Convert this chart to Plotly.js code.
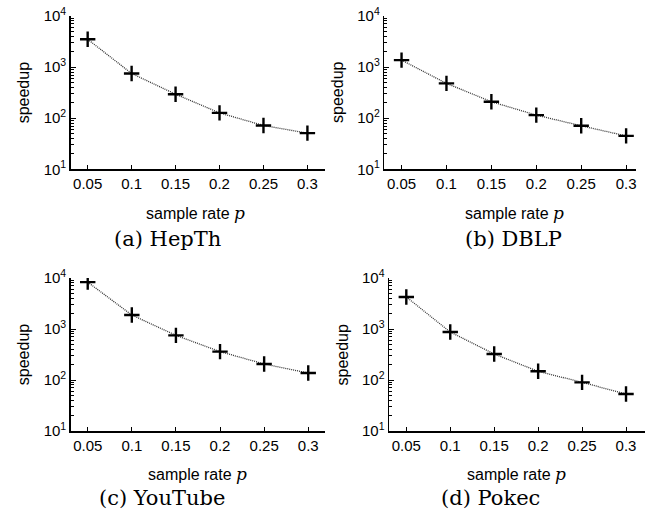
<!DOCTYPE html>
<html><head><meta charset="utf-8">
<script src="https://cdn.plot.ly/plotly-3.0.1.min.js"></script>
<style>html,body{margin:0;padding:0;background:#fff}</style>
</head><body><div id="chart" style="width:661px;height:516px"></div>
<script>
// ---- data ----
const sampleRates = [0.05, 0.1, 0.15, 0.2, 0.25, 0.3];
const xTickLabels = ['0.05', '0.1', '0.15', '0.2', '0.25', '0.3'];
const hepth   = [3500, 750, 295, 127, 72, 51];
const dblp    = [1370, 480, 210, 115, 71, 45];
const youtube = [8300, 1880, 750, 360, 206, 137];
const pokec   = [4240, 873, 323, 148, 90, 53];
const yTickVals = [10, 100, 1000, 10000];
const yTickLabels = ['10<sup>1</sup>', '10<sup>2</sup>', '10<sup>3</sup>', '10<sup>4</sup>'];
const yMinorVals = [20,30,40,50,60,70,80,90,200,300,400,500,600,700,800,900,2000,3000,4000,5000,6000,7000,8000,9000];
const captions = ['(a) HepTh', '(b) DBLP', '(c) YouTube', '(d) Pokec'];
const yTitle = 'speedup';
const xTitle = "sample rate <span style=\"font-family:'DejaVu Serif',serif;font-style:italic;font-size:17px\">p</span>";

// ---- layout (pixel geometry) ----
const W = 661, H = 516;
const panels = [
  {series: hepth,   l: 70.7,  r: 325, t: 16,  b: 169.3, xr: [0.0307, 0.32],  cap: [167, 239], xt: [195, 213]},
  {series: dblp,    l: 384.3, r: 636, t: 16,  b: 169.3, xr: [0.0308, 0.311], cap: [513, 239], xt: [514, 213]},
  {series: youtube, l: 70.7,  r: 325, t: 278, b: 431,   xr: [0.0307, 0.319], cap: [162, 498], xt: [197, 474]},
  {series: pokec,   l: 389,   r: 645, t: 278, b: 431,   xr: [0.0303, 0.3216], cap: [490, 498], xt: [516, 474]}
];
const sans = 'Liberation Sans, Arial, sans-serif';
const data = [];
const layout = {
  width: W, height: H, margin: {l: 0, r: 0, t: 0, b: 0},
  paper_bgcolor: '#fff', plot_bgcolor: '#fff', showlegend: false,
  font: {family: sans, size: 15, color: '#000'},
  annotations: []
};
panels.forEach((p, i) => {
  const n = i === 0 ? '' : String(i + 1);
  data.push({
    x: sampleRates, y: p.series, xaxis: 'x' + n, yaxis: 'y' + n,
    type: 'scatter', mode: 'lines+markers',
    line: {color: '#333', width: 1.3, dash: '1px,1px'},
    marker: {symbol: 'cross-thin', size: 11, color: '#000', line: {color: '#000', width: 2.4}}
  });
  layout['xaxis' + n] = {
    domain: [p.l / W, p.r / W], range: p.xr, anchor: 'y' + n,
    tickmode: 'array', tickvals: sampleRates, ticktext: xTickLabels,
    ticks: 'inside', ticklen: 4, tickwidth: 1, tickcolor: '#000',
    showline: true, linecolor: '#000', linewidth: 1.5, mirror: false,
    showgrid: false, zeroline: false, tickfont: {family: sans, size: 15},
    fixedrange: true
  };
  layout['yaxis' + n] = {
    domain: [1 - p.b / H, 1 - p.t / H], type: 'log', range: [1, 4], anchor: 'x' + n,
    tickmode: 'array', tickvals: yTickVals, ticktext: yTickLabels,
    ticks: 'inside', ticklen: 5, tickwidth: 1, tickcolor: '#000',
    minor: {tickmode: 'array', tickvals: yMinorVals, ticks: 'inside', ticklen: 3, tickwidth: 1, tickcolor: '#000', showgrid: false},
    showline: true, linecolor: '#000', linewidth: 1.5, mirror: false,
    showgrid: false, zeroline: false, tickfont: {family: sans, size: 15},
    fixedrange: true
  };
  layout.annotations.push({
    xref: 'paper', yref: 'paper', x: (p.l - 47) / W, y: 1 - ((p.t + p.b) / 2) / H,
    text: yTitle, textangle: -90, showarrow: false, xanchor: 'center', yanchor: 'middle',
    font: {family: sans, size: 16, color: '#000'}
  });
  layout.annotations.push({
    xref: 'paper', yref: 'paper', x: p.xt[0] / W, y: 1 - p.xt[1] / H,
    text: xTitle, showarrow: false, xanchor: 'center', yanchor: 'middle',
    font: {family: sans, size: 16, color: '#000'}
  });
  layout.annotations.push({
    xref: 'paper', yref: 'paper', x: p.cap[0] / W, y: 1 - p.cap[1] / H,
    text: captions[i], showarrow: false, xanchor: 'center', yanchor: 'middle',
    font: {family: 'DejaVu Serif, serif', size: 21, color: '#000'}
  });
});
Plotly.newPlot('chart', data, layout, {staticPlot: true, displayModeBar: false});
</script></body></html>
